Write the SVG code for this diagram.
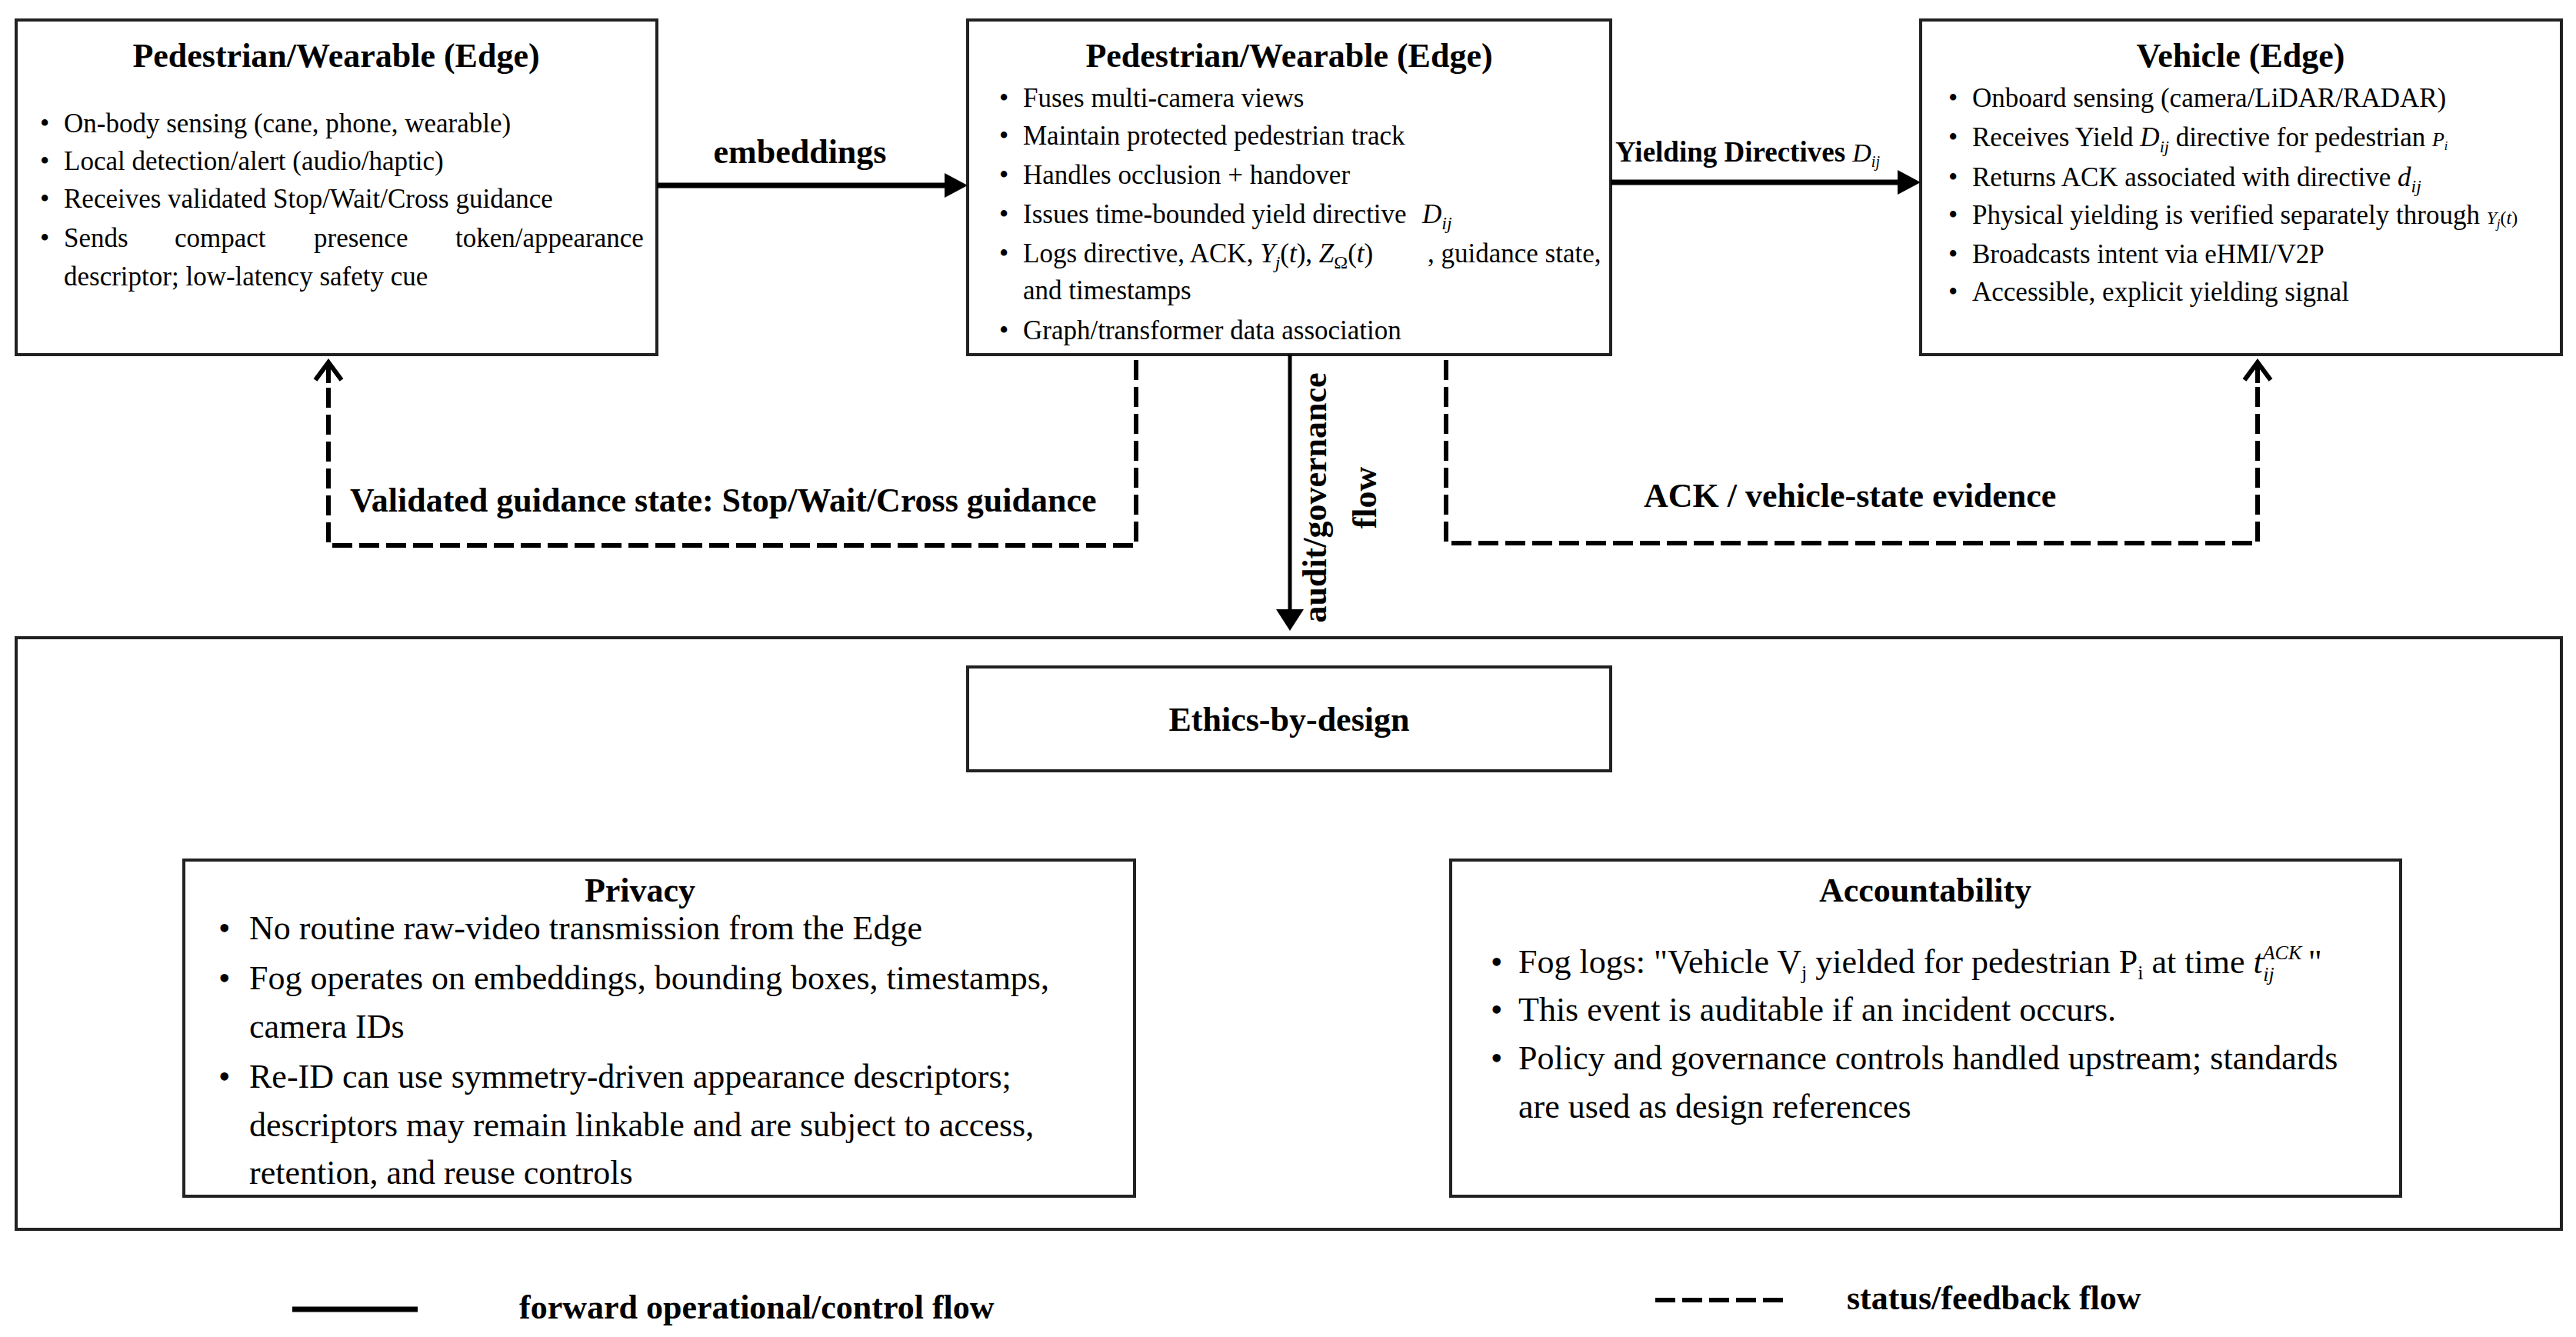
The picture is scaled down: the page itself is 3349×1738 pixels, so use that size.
<svg xmlns="http://www.w3.org/2000/svg" width="3349" height="1738" viewBox="0 0 3349 1738">
<style>
text{font-family:"Liberation Serif","Times New Roman",serif;fill:#000}
.t{font-size:44px;font-weight:bold;text-anchor:middle}
.b{font-size:35px}
.bb{font-size:44px}
.lbl{font-size:44px;font-weight:bold}
.i{font-style:italic}
.box{fill:#fff;stroke:#222;stroke-width:4}
.solid{fill:none;stroke:#000;stroke-width:7}
.thin{fill:none;stroke:#000;stroke-width:5}
.dash{fill:none;stroke:#000;stroke-width:6;stroke-dasharray:26 9}
</style>
<defs>
<marker id="ah" markerUnits="userSpaceOnUse" markerWidth="30" markerHeight="32" viewBox="0 0 30 32" refX="10" refY="16" orient="auto"><path d="M0,0 L30,16 L0,32 z" fill="#000"/></marker>
<marker id="ah2" markerUnits="userSpaceOnUse" markerWidth="28" markerHeight="36" viewBox="0 0 28 36" refX="8" refY="18" orient="auto"><path d="M0,0 L28,18 L0,36 z" fill="#000"/></marker>
<marker id="ahd" markerUnits="userSpaceOnUse" markerWidth="32" markerHeight="40" viewBox="0 0 32 40" refX="28" refY="20" orient="auto"><path d="M0,20 H27" fill="none" stroke="#000" stroke-width="6"/><path d="M4,3 L27,20 L4,37" fill="none" stroke="#000" stroke-width="6"/></marker>
</defs>
<rect width="3349" height="1738" fill="#fff"/>

<g id="n-pedestrian">
<rect class="box" x="21" y="26" width="833" height="435"/>
<text class="t" x="437" y="87">Pedestrian/Wearable (Edge)</text>
<text class="b" x="52" y="172">•</text><text class="b" x="83" y="172">On-body sensing (cane, phone, wearable)</text>
<text class="b" x="52" y="221">•</text><text class="b" x="83" y="221">Local detection/alert (audio/haptic)</text>
<text class="b" x="52" y="270">•</text><text class="b" x="83" y="270">Receives validated Stop/Wait/Cross guidance</text>
<text class="b" x="52" y="321">•</text><text class="b" y="321"><tspan x="83">Sends</tspan> <tspan x="227">compact</tspan> <tspan x="408">presence</tspan> <tspan x="592">token/appearance</tspan></text>
<text class="b" x="83" y="371">descriptor; low-latency safety cue</text>
</g>

<g id="n-fog">
<rect class="box" x="1258" y="26" width="836" height="435"/>
<text class="t" x="1676" y="87">Pedestrian/Wearable (Edge)</text>
<text class="b" x="1299" y="139">•</text><text class="b" x="1330" y="139">Fuses multi-camera views</text>
<text class="b" x="1299" y="188">•</text><text class="b" x="1330" y="188">Maintain protected pedestrian track</text>
<text class="b" x="1299" y="239">•</text><text class="b" x="1330" y="239">Handles occlusion + handover</text>
<text class="b" x="1299" y="290">•</text><text class="b" x="1330" y="290">Issues time-bounded yield directive <tspan x="1849" class="i">D</tspan><tspan class="i" font-size="24" dy="8">ij</tspan></text>
<text class="b" x="1299" y="341">•</text><text class="b" x="1330" y="341">Logs directive, ACK, <tspan class="i">Y</tspan><tspan class="i" font-size="24" dy="8">j</tspan><tspan dy="-8">(</tspan><tspan class="i">t</tspan>), <tspan class="i">Z</tspan><tspan font-size="24" dy="8">Ω</tspan><tspan dy="-8">(</tspan><tspan class="i">t</tspan>)<tspan x="1856">, guidance state,</tspan></text>
<text class="b" x="1330" y="389">and timestamps</text>
<text class="b" x="1299" y="441">•</text><text class="b" x="1330" y="441">Graph/transformer data association</text>
</g>

<g id="n-vehicle">
<rect class="box" x="2497" y="26" width="833" height="435"/>
<text class="t" x="2913" y="87">Vehicle (Edge)</text>
<text class="b" x="2533" y="139">•</text><text class="b" x="2564" y="139">Onboard sensing (camera/LiDAR/RADAR)</text>
<text class="b" x="2533" y="190">•</text><text class="b" x="2564" y="190">Receives Yield <tspan class="i">D</tspan><tspan class="i" font-size="22" dy="8">ij</tspan><tspan dy="-8"> directive  for pedestrian </tspan><tspan class="i" font-size="26">P</tspan><tspan class="i" font-size="16" dy="5">i</tspan></text>
<text class="b" x="2533" y="242">•</text><text class="b" x="2564" y="242">Returns ACK associated with directive <tspan class="i">d</tspan><tspan class="i" font-size="24" dy="8">ij</tspan></text>
<text class="b" x="2533" y="291">•</text><text class="b" x="2564" y="291">Physical yielding is verified separately through <tspan class="i" font-size="24">Y</tspan><tspan class="i" font-size="16" dy="5">j</tspan><tspan font-size="24" dy="-5">(</tspan><tspan class="i" font-size="24">t</tspan><tspan font-size="24">)</tspan></text>
<text class="b" x="2533" y="342">•</text><text class="b" x="2564" y="342">Broadcasts intent via eHMI/V2P</text>
<text class="b" x="2533" y="391">•</text><text class="b" x="2564" y="391">Accessible, explicit yielding signal</text>
</g>

<g id="n-ethics">
<rect class="box" x="21" y="829" width="3309" height="769"/>
<rect class="box" x="1258" y="867" width="836" height="135"/>
<text class="t" x="1676" y="950">Ethics-by-design</text>
</g>

<g id="n-privacy">
<rect class="box" x="239" y="1118" width="1236" height="437"/>
<text class="t" x="832" y="1172">Privacy</text>
<text class="bb" x="284" y="1221">•</text><text class="bb" x="324" y="1221">No routine raw-video transmission from the Edge</text>
<text class="bb" x="284" y="1286">•</text><text class="bb" x="324" y="1286">Fog operates on embeddings, bounding boxes, timestamps,</text>
<text class="bb" x="324" y="1349">camera IDs</text>
<text class="bb" x="284" y="1414">•</text><text class="bb" x="324" y="1414">Re-ID can use symmetry-driven appearance descriptors;</text>
<text class="bb" x="324" y="1477">descriptors may remain linkable and are subject to access,</text>
<text class="bb" x="324" y="1539">retention, and reuse controls</text>
</g>

<g id="n-accountability">
<rect class="box" x="1886" y="1118" width="1235" height="437"/>
<text class="t" x="2503" y="1172">Accountability</text>
<text class="bb" x="1938" y="1265">•</text><text class="bb" x="1974" y="1265">Fog logs: "Vehicle V<tspan font-size="26" dy="8">j</tspan><tspan dy="-8"> yielded for pedestrian P</tspan><tspan font-size="26" dy="8">i</tspan><tspan dy="-8"> at time </tspan><tspan class="i">t</tspan><tspan class="i" font-size="26" dy="-18">ACK</tspan><tspan class="i" font-size="26" dx="-50" dy="28">ij</tspan><tspan dy="-10" dx="44">"</tspan></text>
<text class="bb" x="1938" y="1327">•</text><text class="bb" x="1974" y="1327">This event is auditable if an incident occurs.</text>
<text class="bb" x="1938" y="1390">•</text><text class="bb" x="1974" y="1390">Policy and governance controls handled upstream; standards</text>
<text class="bb" x="1974" y="1453">are used as design references</text>
</g>

<g id="connectors">
<path class="solid" d="M854,241 H1238" marker-end="url(#ah)"/>
<text class="lbl" x="1040" y="212" text-anchor="middle">embeddings</text>
<path class="solid" d="M2094,237 H2477" marker-end="url(#ah)"/>
<text x="2100" y="210" font-size="37" font-weight="bold">Yielding Directives <tspan class="i" font-weight="normal" font-size="34">D</tspan><tspan class="i" font-weight="normal" font-size="20" dy="7">ij</tspan></text>
<path class="dash" d="M1477,468 V709 H427 V470" marker-end="url(#ahd)"/>
<text class="lbl" x="455" y="665">Validated guidance state: Stop/Wait/Cross guidance</text>
<path class="thin" d="M1677,461 V800" marker-end="url(#ah2)"/>
<text class="lbl" transform="translate(1724,647) rotate(-90)" text-anchor="middle">audit/governance</text>
<text class="lbl" transform="translate(1789,647) rotate(-90)" text-anchor="middle">flow</text>
<path class="dash" d="M1880,468 V706 H2935 V470" marker-end="url(#ahd)"/>
<text class="lbl" x="2137" y="659">ACK / vehicle-state evidence</text>
</g>

<g id="legend">
<line class="solid" x1="380" y1="1702" x2="543" y2="1702"/>
<text class="lbl" x="675" y="1714">forward operational/control flow</text>
<line class="dash" x1="2152" y1="1690" x2="2318" y2="1690"/>
<text class="lbl" x="2401" y="1702">status/feedback flow</text>
</g>
</svg>
